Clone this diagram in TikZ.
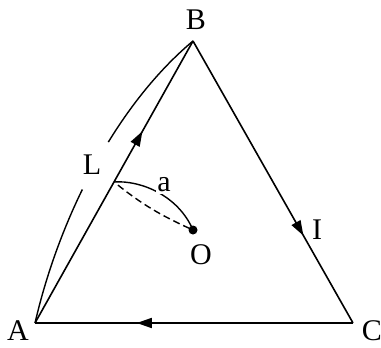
\documentclass[tikz,border=0pt]{standalone}
\usepackage{fontspec}
\setmainfont{Liberation Serif}
\usetikzlibrary{decorations.markings,arrows.meta}
\begin{document}
\begin{tikzpicture}[x=1pt,y=1pt,
  edge/.style={line width=1.6pt,line join=round},
  midarrow/.style={postaction={decorate},decoration={markings,
    mark=at position #1 with {\arrow{Triangle[length=15pt,width=10pt]}}}},
  lbl/.style={font=\fontsize{30}{30}\selectfont,inner sep=0pt},
  thin/.style={line width=1.4pt}]
\useasboundingbox (0,0) rectangle (381,-348);
\coordinate (A) at (35,-323);
\coordinate (B) at (193,-41);
\coordinate (C) at (353,-323);
\coordinate (P) at (114,-182);
\coordinate (O) at (193,-230);
% outer arc with gap at L
\draw[thin,dash pattern=on 142pt off 54pt on 250pt]
  (A) .. controls (59.8,-215.9) and (116.3,-105.2) .. (B);
% triangle sides
\draw[edge,midarrow=0.68] (A) -- (B);
\draw[edge,midarrow=0.69] (B) -- (C);
\draw[edge,midarrow=0.68] (C) -- (A);
% arcs to O
\draw[thin] (P) .. controls (140,-180) and (178,-195) .. (O);
\draw[thin,dash pattern=on 7pt off 4pt,shorten <=5pt] (P) to[bend right=7] (O);
\fill (O) circle (4.5pt);
% labels
\node[lbl] (lB) at (196,-20) {B};
\node[lbl] (lA) at (18,-331) {A};
\node[lbl] (lC) at (372,-331) {C};
\node[lbl] (lL) at (92,-165) {L};
\node[lbl,fill=white,inner sep=1.5pt] (la) at (164,-185) {a};
\node[lbl] (lI) at (317,-230) {I};
\node[lbl] (lO) at (201,-255) {O};
\end{tikzpicture}
\end{document}
